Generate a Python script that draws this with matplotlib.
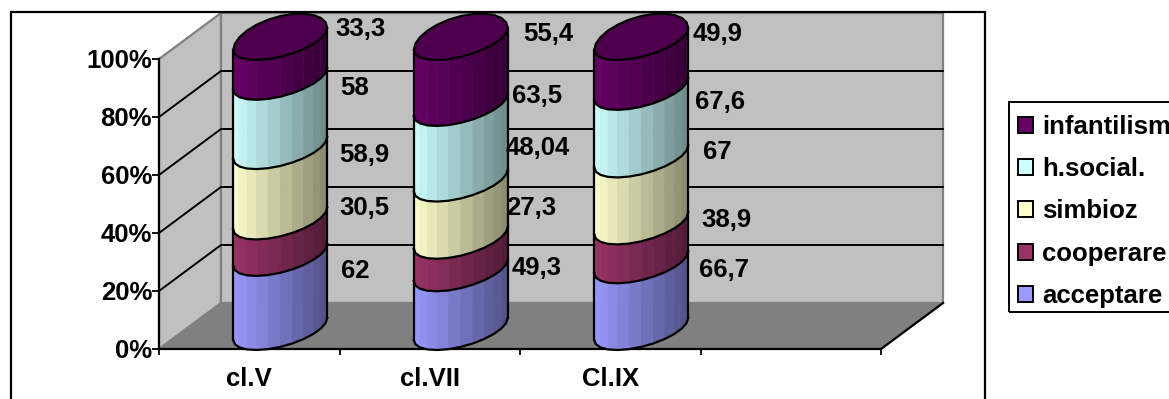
import numpy as np
import matplotlib
matplotlib.use('Agg')
import matplotlib.pyplot as plt
from matplotlib.patches import Polygon, Rectangle, Patch
from matplotlib.ticker import PercentFormatter

plt.rcParams['font.family'] = ['Liberation Sans', 'DejaVu Sans']
plt.rcParams['font.weight'] = 'bold'

W, H = 1169, 399

# Datos
clases = ['cl.V', 'cl.VII', 'Cl.IX']
acceptare = [62, 49.3, 66.7]
cooperare = [30.5, 27.3, 38.9]
simbioz = [58.9, 48.04, 67]
h_social = [58, 63.5, 67.6]
infantilism = [33.3, 55.4, 49.9]

etiquetas_valor = [
    ['62', '30,5', '58,9', '58', '33,3'],
    ['49,3', '27,3', '48,04', '63,5', '55,4'],
    ['66,7', '38,9', '67', '67,6', '49,9'],
]
nombres = ['acceptare', 'cooperare', 'simbioz', 'h.social.', 'infantilism']
colores = ['#9999FF', '#993366', '#FFFFCC', '#CCFFFF', '#660066']
tapa = '#4E004E'

# Posicion de las etiquetas (pixeles de la imagen), por clase y de abajo arriba
pos_etiquetas = [
    [(355, 271), (364, 208), (364, 155), (355, 88), (360, 29)],
    [(537, 268), (531, 208), (538, 148), (537, 96), (548, 34)],
    [(724, 270), (726, 220), (717, 152), (720, 102), (718, 34)],
]

fig = plt.figure(figsize=(W / 100, H / 100), dpi=100)

# Eje frontal del grafico: x en categorias, y en porcentaje
ax = fig.add_axes([159 / W, (H - 349) / H, 722 / W, 290 / H])
ax.set_xlim(0, 4)
ax.set_ylim(0, 100)
ax.patch.set_visible(False)
px_x = 4 / 722
px_y = 100 / 290

# Desplazamiento de profundidad de la pared del fondo
DX = 62 * px_x
DY = 46 * px_y

# Marco exterior y marco de la leyenda
fig.add_artist(Rectangle((11 / W, -0.05), 974 / W, 1.05 - 12 / H, transform=fig.transFigure,
                         fill=False, edgecolor='black', linewidth=1.6))
fig.add_artist(Rectangle((1009 / W, 1 - 312 / H), 0.2, 210 / H, transform=fig.transFigure,
                         fill=False, edgecolor='black', linewidth=1.4))

# Paredes y suelo
pared = '#C0C0C0'
borde = '#808080'
ax.add_patch(Polygon([(0, 0), (DX, DY), (DX, 100 + DY), (0, 100)], closed=True,
                     facecolor=pared, edgecolor=borde, linewidth=1.6, clip_on=False, zorder=1))
ax.add_patch(Polygon([(DX, DY), (4 + DX, DY), (4 + DX, 100 + DY), (DX, 100 + DY)], closed=True,
                     facecolor=pared, edgecolor=borde, linewidth=1.6, clip_on=False, zorder=1))
ax.add_patch(Polygon([(0, 0), (4, 0), (4 + DX, DY), (DX, DY)], closed=True,
                     facecolor=borde, edgecolor=borde, linewidth=1.2, clip_on=False, zorder=1))
ax.plot([4, 4 + DX], [0, DY], color='black', linewidth=1.6, clip_on=False, zorder=2)

# Lineas de rejilla en la pared lateral y la del fondo
for nivel in [20, 40, 60, 80]:
    ax.plot([0, DX, 4 + DX], [nivel, nivel + DY, nivel + DY], color='black',
            linewidth=1.4, clip_on=False, zorder=2)

# Elipse de los cilindros: semiejes a y b sobre x, c sobre y, mitad trasera algo mas alta
a, b, c = 40 * px_x, 24.6 * px_x, 21 * px_y
extra = 5 * px_y
sube = 20 * px_y
t0 = np.arctan2(b, a)
t_frente = np.linspace(t0 + np.pi, t0 + 2 * np.pi, 13)
t_todo = np.linspace(t0, t0 + 2 * np.pi, 25)


def elipse(t, cx, nivel):
    y = nivel + sube + c * np.sin(t) + extra * np.clip(np.sin(t - t0), 0, None)
    return cx + a * np.cos(t) + b * np.sin(t), y


def oscurecer(color, f):
    return tuple(np.array(matplotlib.colors.to_rgb(color)) * f)


series = np.array([acceptare, cooperare, simbioz, h_social, infantilism])
acumulado = np.cumsum(series, axis=0) / series.sum(axis=0) * 100

for i in range(len(clases)):
    cx = i + 0.5 + DX / 2
    z = 5 + i * 10
    base = 0
    for s in range(len(nombres)):
        tope = acumulado[s, i]
        x0, y0 = elipse(t_frente, cx, base)
        x1, y1 = elipse(t_frente, cx, tope)
        # Bandas verticales con sombreado de claro a oscuro
        for k in range(len(t_frente) - 1):
            xm = (x0[k] + x0[k + 1]) / 2
            f = 1 - 0.47 * (xm - x0[0]) / (x0[-1] - x0[0])
            ax.add_patch(Polygon([(x0[k], y0[k]), (x0[k + 1], y0[k + 1]),
                                  (x1[k + 1], y1[k + 1]), (x1[k], y1[k])], closed=True,
                                 facecolor=oscurecer(colores[s], f),
                                 edgecolor=oscurecer(colores[s], f), linewidth=0.4,
                                 clip_on=False, zorder=z))
        ax.plot(x0, y0, color='black', linewidth=1.6, clip_on=False, zorder=z + 1)
        ax.plot([x0[0], x1[0]], [y0[0], y1[0]], color='black', linewidth=1.6,
                clip_on=False, zorder=z + 1)
        ax.plot([x0[-1], x1[-1]], [y0[-1], y1[-1]], color='black', linewidth=1.6,
                clip_on=False, zorder=z + 1)
        base = tope
    xt, yt = elipse(t_todo, cx, 100)
    ax.add_patch(Polygon(np.column_stack([xt, yt]), closed=True, facecolor=tapa,
                         edgecolor='black', linewidth=1.6, clip_on=False, zorder=z + 2))

# Ejes
for lado in ['top', 'right']:
    ax.spines[lado].set_visible(False)
for lado in ['left', 'bottom']:
    ax.spines[lado].set_linewidth(1.6)
    ax.spines[lado].set_zorder(3)
ax.set_yticks(range(0, 101, 20))
ax.yaxis.set_major_formatter(PercentFormatter(100, decimals=0))
ax.tick_params(axis='y', length=5, width=1.3, pad=0, labelsize=18.5)
ax.set_xticks(range(5))
ax.set_xticklabels([])
ax.set_xticks([i + 0.5 for i in range(len(clases))], clases, minor=True)
ax.tick_params(axis='x', which='major', length=4.5, width=1.3)
ax.tick_params(axis='x', which='minor', length=0, pad=13, labelsize=18.5)

# Etiquetas de valores
for i in range(len(clases)):
    for s in range(len(nombres)):
        x, y = pos_etiquetas[i][s]
        fig.text(x / W, 1 - y / H, etiquetas_valor[i][s], ha='center', va='center',
                 fontsize=18.5, fontweight='bold', zorder=50)

# Leyenda
handles = [Patch(facecolor=colores[s], edgecolor='black', linewidth=1.4, label=nombres[s])
           for s in reversed(range(len(nombres)))]
leg = fig.legend(handles=handles, loc='upper left', bbox_to_anchor=(1018 / W, 1 - 115 / H),
                 borderaxespad=0, borderpad=0, frameon=False, fontsize=18.5,
                 handlelength=0.58, handleheight=0.58, handletextpad=0.35, labelspacing=0.71)

fig.savefig('out.png', dpi=100)
